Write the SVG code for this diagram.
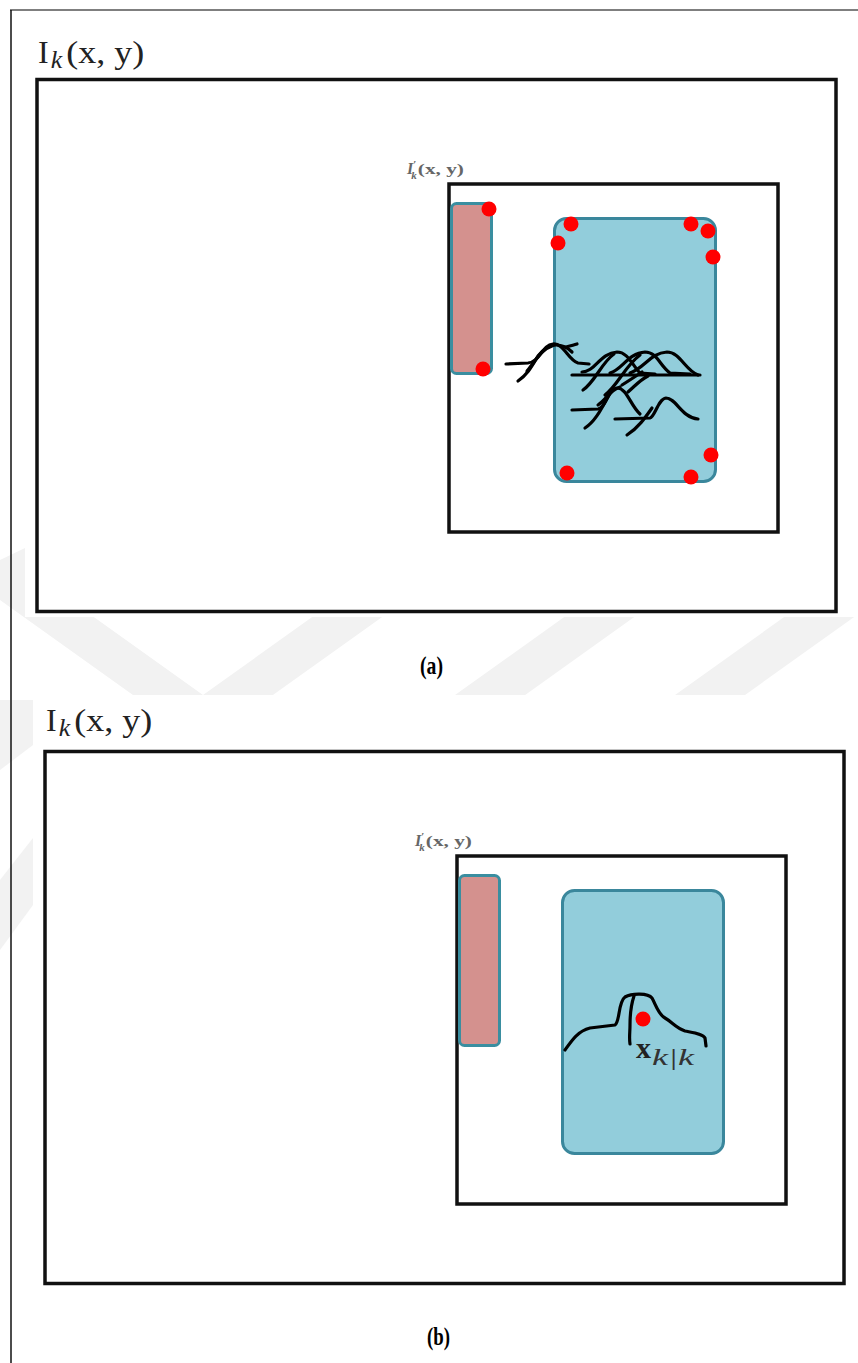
<svg xmlns="http://www.w3.org/2000/svg" width="858" height="1363" viewBox="0 0 858 1363">
<defs>
<style>
.frame{fill:none;stroke:#111;stroke-width:3.5}
.pink{fill:#d4918e;stroke:#3a8ea0;stroke-width:3}
.blue{fill:#92cddb;stroke:#3a879c;stroke-width:3}
.dot{fill:#ff0000}
.curve{fill:none;stroke:#000;stroke-width:3.2;stroke-linecap:round;stroke-linejoin:round}
.big{font-family:"Liberation Serif",serif;font-size:32px;fill:#222}
.bigk{font-family:"Liberation Serif",serif;font-size:26px;font-style:italic;fill:#222}
.small{font-family:"Liberation Serif",serif;font-size:15px;fill:#666;font-weight:bold}
.cap{font-family:"Liberation Serif",serif;font-size:25px;font-weight:bold;fill:#000}
.wm{fill:#f2f2f2}
</style>
</defs>
<rect width="858" height="1363" fill="#fff"/>
<g id="watermark">
<polygon class="wm" points="0,600 70,600 203,695 336,600 406,600 238,720 168,720"/>
<polygon class="wm" points="420,720 490,720 658,600 588,600"/>
<polygon class="wm" points="640,720 710,720 878,600 808,600"/>
<polygon class="wm" points="0,560 25,548 25,600 0,600"/>
<polygon class="wm" points="0,700 33,700 33,745 0,770"/>
<polygon class="wm" points="0,880 33,838 33,905 0,950"/>
</g>
<rect x="25" y="11" width="833" height="606" fill="#fff"/>
<rect x="33" y="695" width="825" height="668" fill="#fff"/>
<g id="page-frame">
<line x1="10" y1="10" x2="858" y2="10" stroke="#555" stroke-width="1.5"/>
<line x1="11" y1="10" x2="11" y2="1363" stroke="#111" stroke-width="1.5"/>
</g>

<g id="panel-a">
<g id="a-image-label">
<text class="big" x="38" y="63">I<tspan class="bigk" dx="2" dy="5">k</tspan><tspan dx="4" dy="-5" textLength="78" lengthAdjust="spacingAndGlyphs">(x, y)</tspan></text>
</g>
<rect id="a-outer" class="frame" x="37" y="79.5" width="799" height="532"/>
<g id="a-roi-label">
<text class="small" x="407" y="174"><tspan font-style="italic" font-size="16">I</tspan><tspan font-size="11" dx="0" dy="-6">′</tspan><tspan font-size="11" font-style="italic" dx="-5" dy="11">k</tspan><tspan dx="1" dy="-5" textLength="46" lengthAdjust="spacingAndGlyphs">(x, y)</tspan></text>
</g>
<rect id="a-inner" class="frame" x="449" y="184" width="329" height="348"/>
<g id="a-pink">
<rect class="pink" x="451.5" y="203.5" width="40" height="170" rx="5"/>
</g>
<g id="a-blue">
<rect class="blue" x="554.5" y="218.5" width="161" height="263" rx="12"/>
</g>
<g id="a-curves">
<path class="curve" d="M506,364 L528,363 C540,362 542,345 553,344 C564,343 568,360 578,363 L589,364"/>
<path class="curve" d="M518,381 C528,374 532,366 538,356 C544,348 550,345 556,345 C563,345 568,348 572,352"/>
<path class="curve" d="M527,371 C535,362 540,350 552,346"/>
<path class="curve" d="M566,347 C570,346 574,345 577,344"/>
<path class="curve" d="M572,375 L700,375"/>
<path class="curve" d="M582,372 C595,372 600,353 617,352 C628,352 632,365 640,373 L655,374"/>
<path class="curve" d="M610,373 C622,370 628,353 645,352 C657,352 660,366 670,373 L690,374"/>
<path class="curve" d="M630,373 C645,368 650,353 667,352 C680,352 685,370 698,375"/>
<path class="curve" d="M583,390 C595,382 602,362 614,354"/>
<path class="curve" d="M605,395 C618,385 625,366 640,355"/>
<path class="curve" d="M622,385 C630,380 636,376 642,372"/>
<path class="curve" d="M628,392 C636,385 640,380 648,376"/>
<path class="curve" d="M572,410 L598,409 C606,408 608,389 617,388 C627,388 630,405 640,414"/>
<path class="curve" d="M585,428 C597,420 603,405 610,393"/>
<path class="curve" d="M615,419 L650,418 C655,417 658,399 666,398 C676,398 682,418 698,419"/>
<path class="curve" d="M627,435 C638,428 645,418 652,408"/>
<path class="curve" d="M598,405 C606,400 610,390 620,387"/>
</g>
<g id="a-points">
<circle class="dot" cx="489" cy="209" r="7.5"/>
<circle class="dot" cx="483" cy="369" r="7.5"/>
<circle class="dot" cx="571" cy="224" r="7.5"/>
<circle class="dot" cx="558" cy="243" r="7.5"/>
<circle class="dot" cx="691" cy="224" r="7.5"/>
<circle class="dot" cx="708" cy="231" r="7.5"/>
<circle class="dot" cx="713" cy="257" r="7.5"/>
<circle class="dot" cx="567" cy="473" r="7.5"/>
<circle class="dot" cx="691" cy="477" r="7.5"/>
<circle class="dot" cx="711" cy="455" r="7.5"/>
</g>
<text id="a-caption" class="cap" x="420" y="674" textLength="23" lengthAdjust="spacingAndGlyphs">(a)</text>
</g>

<g id="panel-b">
<g id="b-image-label">
<text class="big" x="46" y="731">I<tspan class="bigk" dx="2" dy="5">k</tspan><tspan dx="4" dy="-5" textLength="78" lengthAdjust="spacingAndGlyphs">(x, y)</tspan></text>
</g>
<rect id="b-outer" class="frame" x="45" y="751.5" width="799" height="532"/>
<g id="b-roi-label">
<text class="small" x="415" y="846"><tspan font-style="italic" font-size="16">I</tspan><tspan font-size="11" dx="0" dy="-6">′</tspan><tspan font-size="11" font-style="italic" dx="-5" dy="11">k</tspan><tspan dx="1" dy="-5" textLength="46" lengthAdjust="spacingAndGlyphs">(x, y)</tspan></text>
</g>
<rect id="b-inner" class="frame" x="457" y="856" width="329" height="348"/>
<g id="b-pink">
<rect class="pink" x="459.5" y="875.5" width="40" height="170" rx="5"/>
</g>
<g id="b-blue">
<rect class="blue" x="562.5" y="890.5" width="161" height="263" rx="12"/>
</g>
<g id="b-curves">
<path class="curve" d="M565,1050 C572,1040 578,1031 590,1028 L615,1025 C620,1022 618,1002 625,997 C632,993 648,993 652,998 C656,1005 658,1014 665,1018 C672,1022 676,1028 685,1031 C695,1033 703,1034 705,1038 L706,1046"/>
<path class="curve" d="M634,996 C631,1005 630,1015 630,1025 C630,1032 629,1038 630,1044"/>
</g>
<circle id="b-estimate" class="dot" cx="643" cy="1019" r="7.5"/>
<g id="b-estimate-label">
<text x="636" y="1058" font-family="Liberation Serif, serif" font-size="30" font-weight="bold" fill="#222">x<tspan font-size="23" font-weight="normal" font-style="italic" fill="#333" dx="1" dy="7" textLength="42" lengthAdjust="spacingAndGlyphs">k|k</tspan></text>
</g>
<text id="b-caption" class="cap" x="427" y="1345" textLength="23" lengthAdjust="spacingAndGlyphs">(b)</text>
</g>
</svg>
